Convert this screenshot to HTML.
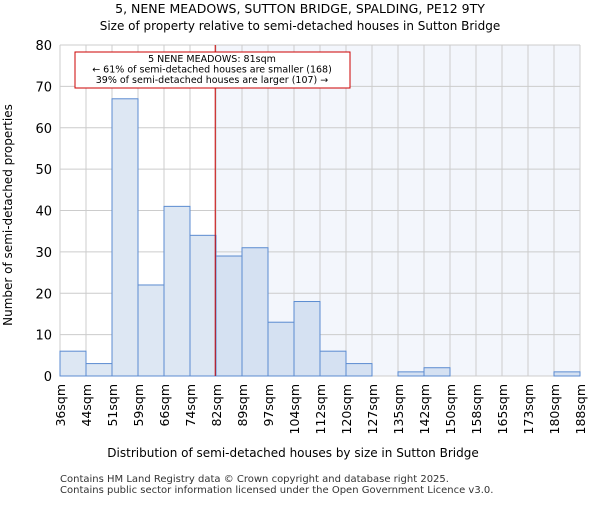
<!DOCTYPE html>
<html><head><meta charset="utf-8"><style>
body{margin:0;background:#fff}
svg,svg text{font-family:"DejaVu Sans","Liberation Sans",sans-serif}
</style></head><body>
<svg width="600" height="500" xmlns="http://www.w3.org/2000/svg">
<text x="300" y="13" text-anchor="middle" font-size="12.5">5, NENE MEADOWS, SUTTON BRIDGE, SPALDING, PE12 9TY</text>
<text x="300" y="30" text-anchor="middle" font-size="12">Size of property relative to semi-detached houses in Sutton Bridge</text>
<g id="plot"></g>
<text x="293" y="457" text-anchor="middle" font-size="12">Distribution of semi-detached houses by size in Sutton Bridge</text>
<text transform="translate(12,215) rotate(-90)" text-anchor="middle" font-size="12">Number of semi-detached properties</text>
<text x="60" y="482" font-size="10" fill="#333">Contains HM Land Registry data © Crown copyright and database right 2025.</text>
<text x="60" y="493" font-size="10" fill="#333">Contains public sector information licensed under the Open Government Licence v3.0.</text>
</svg>
<script>
const categories=["36sqm","44sqm","51sqm","59sqm","66sqm","74sqm","82sqm","89sqm","97sqm","104sqm","112sqm","120sqm","127sqm","135sqm","142sqm","150sqm","158sqm","165sqm","173sqm","180sqm","188sqm"];
const counts=[6,3,67,22,41,34,29,31,13,18,6,3,0,1,2,0,0,0,0,1];
const yTicks=[0,10,20,30,40,50,60,70,80];
const markerBin=5.97;
const L=60,R=580,T=45,B=376,yMax=80;
const NS="http://www.w3.org/2000/svg";
const g=document.getElementById('plot');
const bw=(R-L)/counts.length;
const x=i=>L+i*bw, y=v=>B-(v/yMax)*(B-T);
function mk(t,a){const e=document.createElementNS(NS,t);for(const k in a)e.setAttribute(k,a[k]);g.appendChild(e);return e;}
const mx=x(markerBin);
let e=mk('rect',{x:mx,y:T,width:R-mx,height:B-T,fill:'#f3f6fc'});


yTicks.forEach(v=>{let l=mk('line',{x1:L,x2:R,y1:y(v),y2:y(v),stroke:'#ccc'});


let t=mk('text',{x:L-8,y:y(v)+5,'text-anchor':'end','font-size':13});t.textContent=v;

});
categories.forEach((c,i)=>{let l=mk('line',{x1:x(i),x2:x(i),y1:T,y2:B,stroke:'#ccc'});


let t=mk('text',{transform:`translate(${x(i)+5},${B+8}) rotate(-90)`,'text-anchor':'end','font-size':12.5});t.textContent=c;

});
counts.forEach((v,i)=>{if(v<=0)return;let r=mk('rect',{x:x(i),y:y(v),width:bw,height:B-y(v),fill:i<6?'#dde7f3':'#d5e1f2',stroke:'#5b8bd0','stroke-width':1});

});
e=mk('line',{x1:mx,x2:mx,y1:T,y2:B,stroke:'#c00','stroke-width':1});


e=mk('rect',{x:75,y:52,width:275,height:36,fill:'#fff',stroke:'#c00'});


["5 NENE MEADOWS: 81sqm","← 61% of semi-detached houses are smaller (168)","39% of semi-detached houses are larger (107) →"].forEach((s,i)=>{let t=mk('text',{x:212,y:62+i*10.5,'text-anchor':'middle','font-size':9.5});t.textContent=s;

});
</script>
</body></html>
